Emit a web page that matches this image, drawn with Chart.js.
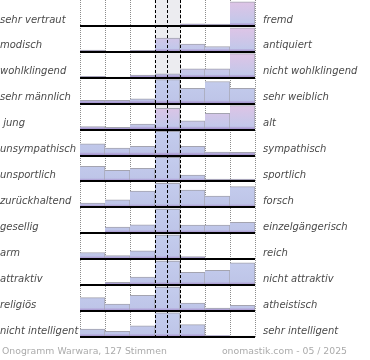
<!DOCTYPE html>
<html><head><meta charset="utf-8">
<script src="https://cdn.jsdelivr.net/npm/chart.js@4/dist/chart.umd.min.js"></script>
<style>html,body{margin:0;padding:0;background:#fff}#wrap{width:370px;height:360px;position:relative}</style>
</head><body><div id="wrap"><canvas id="c"></canvas></div>
<script>
// ---- data ----
const columns = ['1','2','3','4','5','6','7'];
const leftLabels = ['sehr vertraut','modisch','wohlklingend','sehr männlich',' jung','unsympathisch','unsportlich','zurückhaltend','gesellig','arm','attraktiv','religiös','nicht intelligent'];
const rightLabels = ['fremd','antiquiert','nicht wohlklingend','sehr weiblich','alt','sympathisch','sportlich','forsch','einzelgängerisch','reich','nicht attraktiv','atheistisch','sehr intelligent'];
const vertrautFremd = [0,0,0,0,9,8,100];
const modischAntiquiert = [7,0,6,57,32,22,100];
const wohlklingend = [6,3,11,16,37,37,100];
const maennlichWeiblich = [14,14,20,100,64,92,64];
const jungAlt = [13,9,23,88,36,68,100];
const sympathisch = [49,31,38,100,38,14,13];
const sportlich = [63,46,54,100,26,10,10];
const zurueckhaltendForsch = [18,31,68,100,72,47,86];
const geselligEinzelgaenger = [0,26,35,100,34,34,46];
const armReich = [28,15,35,100,11,3,0];
const attraktiv = [0,12,33,100,53,61,93];
const religioesAtheistisch = [56,29,65,100,33,12,24];
const intelligent = [33,24,46,100,51,6,2];
const rowValues = [vertrautFremd,modischAntiquiert,wohlklingend,maennlichWeiblich,jungAlt,sympathisch,sportlich,zurueckhaltendForsch,geselligEinzelgaenger,armReich,attraktiv,religioesAtheistisch,intelligent];
const footerLeft = 'Onogramm Warwara, 127 Stimmen';
const footerRight = 'onomastik.com - 05 / 2025';

// ---- styling ----
const N = rowValues.length;
const FILL = 0.93;            // share of a row that a 100 bar fills
const ROSE = new Set([0,1,2,4]);
const gradCache = {};
function fillFor(ctx){
  const chart = ctx.chart, ca = chart.chartArea;
  if (!ca) return '#c2c8e8';
  const r = ctx.dataset.rowIndex;
  const key = r + '_' + ca.top + '_' + ca.bottom;
  if (gradCache[key]) return gradCache[key];
  const ys = chart.scales.y, b = N - 1 - r;
  const top = ys.getPixelForValue(b + FILL), bot = ys.getPixelForValue(b);
  const g = chart.ctx.createLinearGradient(0, top, 0, bot);
  if (ROSE.has(r)) { g.addColorStop(0,'#dec4e6'); g.addColorStop(0.5,'#cec6e8'); g.addColorStop(0.86,'#c2c8ea'); }
  else { g.addColorStop(0,'#c4cced'); g.addColorStop(0.86,'#bec5e8'); }
  g.addColorStop(0.92,'#b2a6d8'); g.addColorStop(1,'#9a88c8');
  gradCache[key] = g; return g;
}
const baselines = rowValues.map((_, i) => i);
const labelFont = {family:'"DejaVu Sans"', size:10, style:'italic'};
const noPad = s => { s.paddingTop = 0; s.paddingBottom = 0; s.paddingLeft = 0; s.paddingRight = 0; };

const datasets = rowValues.map((vals, r) => {
  const b = N - 1 - r;
  return {
    rowIndex: r,
    data: vals.map(v => v > 0 ? [b, b + v / 100 * FILL] : null),
    backgroundColor: fillFor,
    borderColor: '#a4a4b0',
    borderWidth: {top:1, right:1, left:0, bottom:0},
    borderSkipped: false,
    grouped: false,
    barPercentage: 1, categoryPercentage: 1,
    order: 1
  };
});
datasets.push({
  data: columns.map((c, i) => i === 3 ? [0, N] : null),
  backgroundColor: '#ececf0', borderWidth: 0,
  grouped: false, barPercentage: 1, categoryPercentage: 1,
  order: 100
});

const footer = {
  id: 'footer',
  afterDraw(chart){
    const c = chart.ctx; c.save();
    c.font = '9.3px "DejaVu Sans"'; c.fillStyle = '#ababab'; c.textBaseline = 'middle';
    c.textAlign = 'left'; c.fillText(footerLeft, 2, 352);
    c.textAlign = 'right'; c.fillText(footerRight, 347, 352);
    c.restore();
  }
};

new Chart(document.getElementById('c'), {
  type: 'bar',
  data: { labels: columns, datasets },
  plugins: [footer],
  options: {
    responsive: true, maintainAspectRatio: false, animation: false,
    layout: { padding: {top:0, bottom:23, left:0, right:0} },
    plugins: { legend: {display:false}, tooltip: {enabled:false} },
    scales: {
      x: {
        type: 'category', offset: true, position: 'bottom',
        grid: { offset: true, color: '#8c8c8c', lineWidth: 1, drawTicks: false },
        border: { display: false, dash: [1,1] },
        ticks: { display: false },
        afterFit: s => { s.height = 0; noPad(s); }
      },
      x2: {
        type: 'linear', min: 0, max: columns.length, position: 'bottom',
        afterBuildTicks: s => { s.ticks = [{value:3},{value:4}]; },
        grid: { color: '#000', lineWidth: 1, drawTicks: false, z: 1 },
        border: { display: false, dash: [3,2] },
        ticks: { display: false },
        afterFit: s => { s.height = 0; noPad(s); }
      },
      y: {
        type: 'linear', min: 0, max: N, position: 'left',
        afterBuildTicks: s => { s.ticks = baselines.map(v => ({value: v})); },
        afterFit: s => { s.width = 80; noPad(s); },
        grid: { color: '#000', lineWidth: 2, drawTicks: false, z: 1 },
        border: { display: false },
        ticks: { autoSkip: false, crossAlign: 'far', padding: 0, labelOffset: -6, color: '#4a4a4a', font: labelFont,
                 callback: v => leftLabels[N - 1 - v] }
      },
      yR: {
        type: 'linear', min: 0, max: N, position: 'right',
        afterBuildTicks: s => { s.ticks = baselines.map(v => ({value: v})); },
        afterFit: s => { s.width = 115; noPad(s); },
        grid: { display: false, drawTicks: false },
        border: { display: false },
        ticks: { autoSkip: false, crossAlign: 'near', padding: 8, labelOffset: -6, color: '#4a4a4a', font: labelFont,
                 callback: v => rightLabels[N - 1 - v] }
      }
    }
  }
});
</script>
</body></html>
